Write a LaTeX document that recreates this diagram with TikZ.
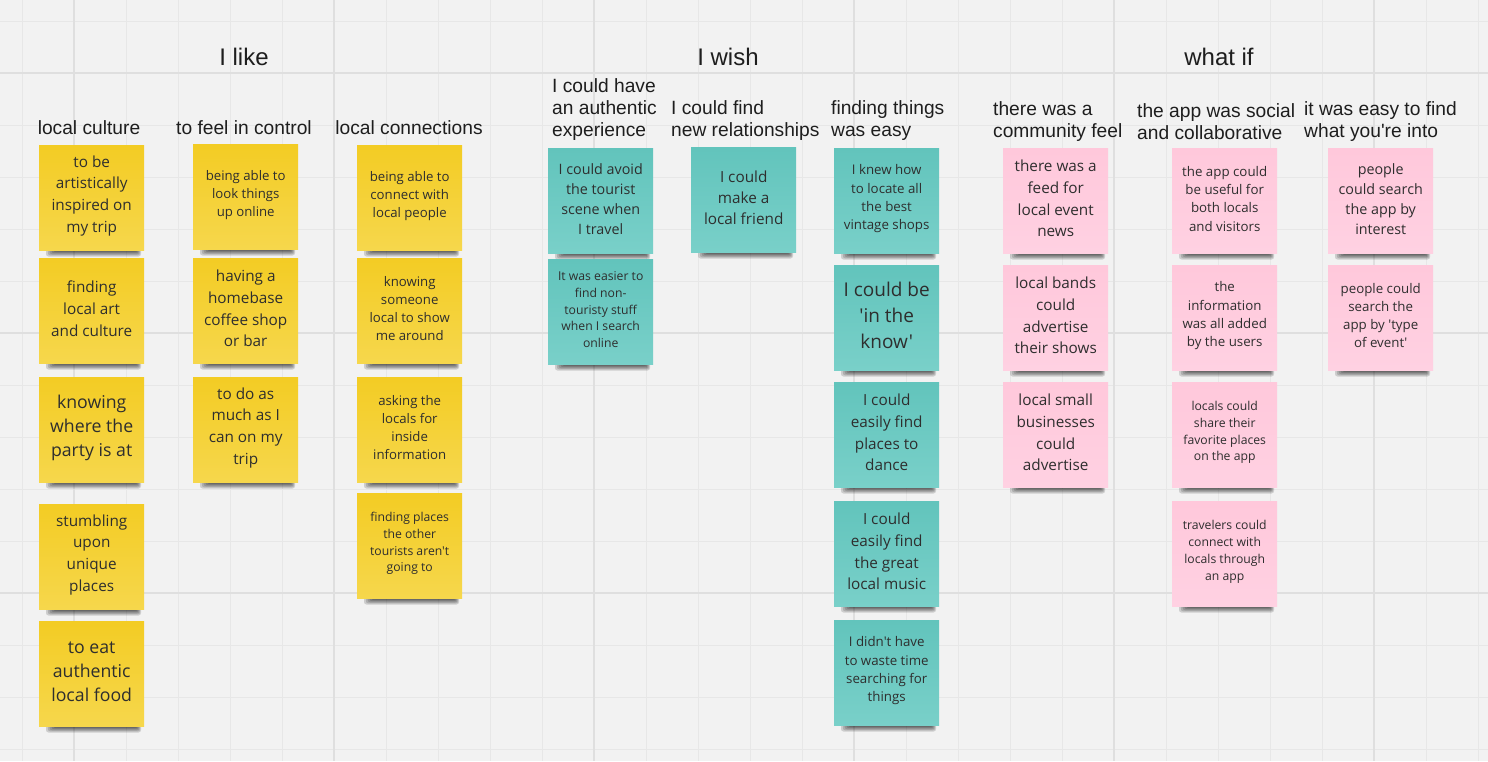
\documentclass[tikz,border=0pt]{standalone}
\usepackage{fontspec}
\setmainfont{Open Sans}[Ligatures=TeXOff]
\newfontfamily\headfont{Liberation Sans}[Ligatures=TeXOff]
\definecolor{bgcol}{HTML}{F2F2F2}
\definecolor{gridcol}{HTML}{E7E7E7}
\definecolor{gridbold}{HTML}{DFDFDF}
\definecolor{ytop}{HTML}{F3CC24}
\definecolor{ybot}{HTML}{F6D74C}
\definecolor{ttop}{HTML}{62C4BC}
\definecolor{tbot}{HTML}{79D0C9}
\definecolor{ptop}{HTML}{FFC8DB}
\definecolor{pbot}{HTML}{FFD1E2}
\definecolor{stxt}{HTML}{2E2E2E}
\definecolor{htxt}{HTML}{1E1E1E}
\tikzset{
  sticky/.style={anchor=north west, minimum width=105pt, minimum height=105pt, inner sep=0pt, draw=none},
  yel/.style={top color=ytop, bottom color=ybot},
  tea/.style={top color=ttop, bottom color=tbot},
  pnk/.style={top color=ptop, bottom color=pbot},
  shadowpiece/.style={fill=black, fill opacity=0.15, rounded corners=2.5pt},
  stext/.style={align=center, text=stxt, inner sep=0pt},
  hbig/.style={font=\headfont\fontsize{24}{28}\selectfont, text=htxt, inner sep=0pt},
  hsub/.style={font=\headfont\fontsize{19.2}{22}\selectfont, text=htxt, inner sep=0pt, align=left},
}
\newcommand\stk[7]{%
  \foreach \i in {0,...,5} {
    \path[shadowpiece] (#2+16-1.8*\i,#3+103.5-0.3*\i) rectangle (#2+98+0.8*\i,#3+106+1.1*\i);
  }
  \node[sticky,#4] (#1) at (#2,#3) {};
  \node[stext, font=\fontsize{#5}{#6}\selectfont] (#1t) at ([yshift=2pt]#1.center) {#7};
}
\begin{document}
\begin{tikzpicture}[x=1pt,y=-1pt]
\useasboundingbox (0,0) rectangle (1488,761);
\fill[bgcol] (0,0) rectangle (1488,761);
% grid
\foreach \k in {0,...,28} {
  \pgfmathtruncatemacro\gx{22+52*\k}
  \draw[gridcol, line width=1pt] (\gx,0) -- (\gx,761);
}
\foreach \k in {0,...,14} {
  \pgfmathtruncatemacro\gy{21+52*\k}
  \draw[gridcol, line width=1pt] (0,\gy) -- (1488,\gy);
}
\foreach \gx in {74,334,594,854,1114,1374} \draw[gridbold, line width=1.1pt] (\gx,0) -- (\gx,761);
\foreach \gy in {73,333,593} \draw[gridbold, line width=1.1pt] (0,\gy) -- (1488,\gy);

% main headings
\node[hbig] (hlike) at (244,57) {I like};
\node[hbig] (hwish) at (728,57) {I wish};
\node[hbig] (hwhat) at (1219,57) {what if};

% sub headings
\node[hsub] (c1) at (89,128) {local culture};
\node[hsub] (c2) at (244,128) {to feel in control};
\node[hsub] (c3) at (409,128) {local connections};
\node[hsub, anchor=west] (c4) at (552,110) {I could have\\an authentic\\experience};
\node[hsub, anchor=west] (c5) at (671,121) {I could find\\new relationships};
\node[hsub, anchor=west] (c6) at (831,121) {finding things\\was easy};
\node[hsub, anchor=west] (c7) at (993,121.5) {there was a\\community feel};
\node[hsub, anchor=west] (c8) at (1137,121.5) {the app was social\\and collaborative};
\node[hsub, anchor=west] (c9) at (1304,121.5) {it was easy to find\\what you're into};

% column 1
\stk{a1}{39}{145}{yel}{15.3}{21.7}{to be\\artistically\\inspired on\\my trip}
\stk{a2}{39}{258}{yel}{15.3}{21.7}{finding\\local art\\and culture}
\stk{a3}{39}{377}{yel}{17.7}{24.3}{knowing\\where the\\party is at}
\stk{a4}{39}{504}{yel}{15.3}{21.7}{stumbling\\upon\\unique\\places}
\stk{a5}{39}{621}{yel}{17.7}{24.3}{to eat\\authentic\\local food}
% column 2
\stk{b1}{193}{144}{yel}{13.2}{18}{being able to\\look things\\up online}
\stk{b2}{193}{258}{yel}{15.3}{21.7}{having a\\homebase\\coffee shop\\or bar}
\stk{b3}{193}{377}{yel}{15.3}{21.7}{to do as\\much as I\\can on my\\trip}
% column 3
\stk{d1}{357}{145}{yel}{13.2}{18}{being able to\\connect with\\local people}
\stk{d2}{357}{258}{yel}{13.2}{18}{knowing\\someone\\local to show\\me around}
\stk{d3}{357}{377}{yel}{13.2}{18.2}{asking the\\locals for\\inside\\information}
\stk{d4}{357}{493}{yel}{12.2}{16.7}{finding places\\the other\\tourists aren't\\going to}
% column 4
\stk{e1}{548}{148}{tea}{14.3}{20}{I could avoid\\the tourist\\scene when\\I travel}
\stk{e2}{548}{259}{tea}{12.2}{16.7}{It was easier to\\find non-\\touristy stuff\\when I search\\online}
% column 5
\stk{f1}{691}{147}{tea}{15.3}{21.3}{I could\\make a\\local friend}
% column 6
\stk{g1}{834}{148}{tea}{13.3}{18.3}{I knew how\\to locate all\\the best\\vintage shops}
\stk{g2}{834}{265}{tea}{19}{26}{I could be\\'in the\\know'}
\stk{g3}{834}{382}{tea}{15.3}{21.7}{I could\\easily find\\places to\\dance}
\stk{g4}{834}{501}{tea}{15.3}{21.7}{I could\\easily find\\the great\\local music}
\stk{g5}{834}{620}{tea}{13.3}{18.3}{I didn't have\\to waste time\\searching for\\things}
% column 7
\stk{h1}{1003}{148}{pnk}{15.3}{21.7}{there was a\\feed for\\local event\\news}
\stk{h2}{1003}{265}{pnk}{15.3}{21.7}{local bands\\could\\advertise\\their shows}
\stk{h3}{1003}{382}{pnk}{15.3}{21.7}{local small\\businesses\\could\\advertise}
% column 8
\stk{i1}{1172}{148}{pnk}{13.3}{18.3}{the app could\\be useful for\\both locals\\and visitors}
\stk{i2}{1172}{265}{pnk}{13.3}{18.2}{the\\information\\was all added\\by the users}
\stk{i3}{1172}{382}{pnk}{12.2}{16.7}{locals could\\share their\\favorite places\\on the app}
\stk{i4}{1172}{501}{pnk}{12.2}{16.8}{travelers could\\connect with\\locals through\\an app}
% column 9
\stk{j1}{1328}{148}{pnk}{14.3}{20}{people\\could search\\the app by\\interest}
\stk{j2}{1328}{265}{pnk}{13.3}{18.2}{people could\\search the\\app by 'type\\of event'}
\end{tikzpicture}
\end{document}
